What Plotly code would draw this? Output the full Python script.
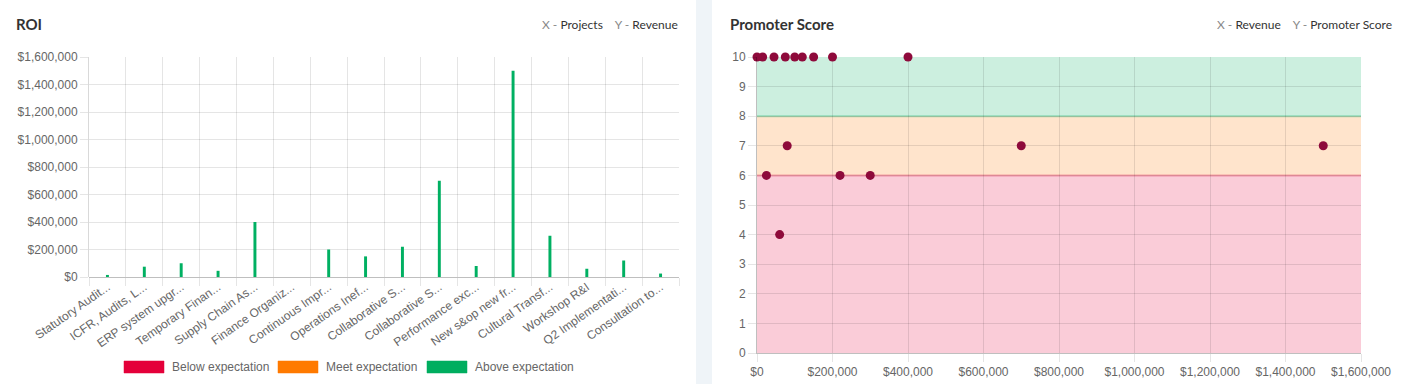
import plotly.graph_objects as go

# ---------------- data ----------------
projects = ["Statutory Audit...", "ICFR, Audits, L...", "ERP system upgr...", "Temporary Finan...",
            "Supply Chain As...", "Finance Organiz...", "Continuous Impr...", "Operations Inef...",
            "Collaborative S...", "Collaborative S...", "Performance exc...", "New s&op new fr...",
            "Cultural Transf...", "Workshop R&I", "Q2 Implementati...", "Consultation to..."]
revenue = [15000, 75000, 100000, 45000, 400000, 0, 200000, 150000,
           220000, 700000, 80000, 1500000, 300000, 60000, 120000, 25000]
promoter_score = [10, 10, 10, 10, 10, 10, 10, 10, 6, 7, 7, 7, 6, 4, 10, 6]
revenue_ticks = [0, 200000, 400000, 600000, 800000, 1000000, 1200000, 1400000, 1600000]
score_ticks = [0, 1, 2, 3, 4, 5, 6, 7, 8, 9, 10]
band_labels = ["Below expectation", "Meet expectation", "Above expectation"]
band_low = [0, 6, 8]
band_high = [6, 8, 10]
band_colors = ["#e4003a", "#ff7a00", "#00ae5f"]

revenue_tick_text = [f"${v:,}" for v in revenue_ticks]

# ---------------- layout helpers ----------------
W, H = 1408, 384
def px(x):
    return x / W
def py(y):
    return 1 - y / H

TICK_FONT = dict(family="Liberation Sans, Arial, sans-serif", size=12, color="#666")
GRID = "rgba(0,0,0,0.1)"
BAR_GREEN = "#00b062"
POINT = "#8e0a3b"

fig = go.Figure()

x_idx = list(range(len(projects)))
fig.add_trace(go.Bar(x=x_idx, y=revenue, width=0.08, marker=dict(color=BAR_GREEN, line=dict(width=0)),
                     xaxis="x", yaxis="y", showlegend=False, hovertext=projects))

fig.add_trace(go.Scatter(x=revenue, y=promoter_score, mode="markers",
                         marker=dict(size=9, color=POINT, line=dict(width=0)),
                         xaxis="x2", yaxis="y2", showlegend=False, cliponaxis=False,
                         hovertext=projects))

shapes = []
# cards
shapes.append(dict(type="rect", xref="paper", yref="paper", x0=0, x1=px(696), y0=0, y1=1,
                   fillcolor="white", line=dict(width=0), layer="below"))
shapes.append(dict(type="rect", xref="paper", yref="paper", x0=px(712), x1=1, y0=0, y1=1,
                   fillcolor="white", line=dict(width=0), layer="below"))

def rgba(hexc, a):
    h = hexc.lstrip("#")
    r, g, b = int(h[0:2], 16), int(h[2:4], 16), int(h[4:6], 16)
    return f"rgba({r},{g},{b},{a})"

# promoter bands
for lo, hi, c in zip(band_low, band_high, band_colors):
    shapes.append(dict(type="rect", xref="x2 domain", yref="y2", x0=0, x1=1, y0=lo, y1=hi,
                       fillcolor=rgba(c, 0.2), line=dict(width=0), layer="below"))
# band boundary lines
shapes.append(dict(type="line", xref="x2 domain", yref="y2", x0=0, x1=1, y0=band_high[0], y1=band_high[0],
                   line=dict(color=rgba(band_colors[0], 0.3), width=2), layer="below"))
shapes.append(dict(type="line", xref="x2 domain", yref="y2", x0=0, x1=1, y0=band_low[2], y1=band_low[2],
                   line=dict(color=rgba(band_colors[2], 0.3), width=2), layer="below"))

# manual legend (left chart)
annotations = []
legend_box_x = [124, 278, 427]
for bx, lab, c in zip(legend_box_x, band_labels, band_colors):
    shapes.append(dict(type="rect", xref="paper", yref="paper", x0=px(bx), x1=px(bx + 40),
                       y0=py(373), y1=py(361), fillcolor=c, line=dict(color=rgba(c, 0.5), width=1)))
    annotations.append(dict(xref="paper", yref="paper", x=px(bx + 46), y=py(367), xanchor="left",
                            yanchor="middle", text=lab, showarrow=False,
                            font=dict(family="Liberation Sans, Arial, sans-serif", size=12, color="#666")))

TITLE_FONT = dict(family="Lato, Open Sans, sans-serif", size=15, color="#333")
HDR_FONT = dict(family="Lato, Open Sans, sans-serif", size=12, color="#888")
annotations.append(dict(xref="paper", yref="paper", x=px(14), y=py(24), xanchor="left", yanchor="middle",
                        text="<b>ROI</b>", showarrow=False, font=TITLE_FONT))
annotations.append(dict(xref="paper", yref="paper", x=px(728), y=py(24), xanchor="left", yanchor="middle",
                        text="<b>Promoter Score</b>", showarrow=False, font=TITLE_FONT))
annotations.append(dict(xref="paper", yref="paper", x=px(680), y=py(24), xanchor="right", yanchor="middle",
                        text="X - <span style='color:#333'>Projects</span>    Y - <span style='color:#333'>Revenue</span>",
                        showarrow=False, font=HDR_FONT))
annotations.append(dict(xref="paper", yref="paper", x=px(1394), y=py(24), xanchor="right", yanchor="middle",
                        text="X - <span style='color:#333'>Revenue</span>    Y - <span style='color:#333'>Promoter Score</span>",
                        showarrow=False, font=HDR_FONT))

fig.update_layout(
    width=W, height=H,
    margin=dict(l=0, r=0, t=0, b=0, pad=0, autoexpand=False),
    paper_bgcolor="#eff4f8",
    plot_bgcolor="rgba(0,0,0,0)",
    shapes=shapes,
    annotations=annotations,
    showlegend=False,
    xaxis=dict(domain=[px(89), px(679)], anchor="y", range=[-0.5, len(projects) - 0.5], automargin=False,
               tickmode="array", tickvals=x_idx, ticktext=projects, tickangle=-35,
               ticks="", showgrid=False, zeroline=False, tickfont=TICK_FONT,
               showline=False,
               minor=dict(tick0=0.5, dtick=1, showgrid=True, gridcolor=GRID, gridwidth=1,
                          ticks="outside", ticklen=8, tickcolor=GRID)),
    yaxis=dict(domain=[py(277), py(57)], anchor="x", range=[0, 1600000], automargin=False,
               tickmode="array", tickvals=revenue_ticks, ticktext=revenue_tick_text,
               ticks="outside", ticklen=8, tickcolor=GRID, gridcolor=GRID, tickfont=TICK_FONT,
               showline=True, linecolor="rgba(0,0,0,0.15)", zeroline=True,
               zerolinecolor="rgba(0,0,0,0.25)", zerolinewidth=1),
    xaxis2=dict(domain=[px(757), px(1361)], anchor="y2", range=[0, 1600000], automargin=False,
                tickmode="array", tickvals=revenue_ticks, ticktext=revenue_tick_text,
                ticks="outside", ticklen=8, tickcolor=GRID, gridcolor=GRID, tickfont=TICK_FONT,
                showline=True, linecolor="rgba(0,0,0,0.25)", zeroline=False),
    yaxis2=dict(domain=[py(353), py(57)], anchor="x2", range=[0, 10], automargin=False,
                tickmode="array", tickvals=score_ticks,
                ticks="outside", ticklen=8, tickcolor=GRID, gridcolor=GRID, tickfont=TICK_FONT,
                showline=True, linecolor="rgba(0,0,0,0.25)", zeroline=False),
)

fig.write_html("out.html", config={"displayModeBar": False},
               post_script="document.body.style.margin='0';document.body.style.overflow='hidden';")
